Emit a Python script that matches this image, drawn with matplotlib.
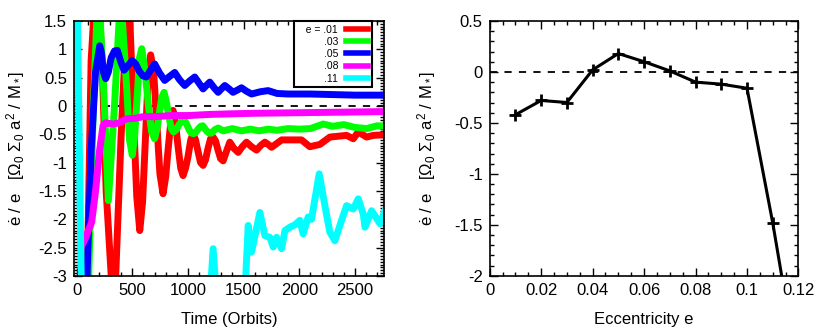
import matplotlib
matplotlib.use('Agg')
import matplotlib.pyplot as plt
import numpy as np
from matplotlib.ticker import MultipleLocator

plt.rcParams['font.family'] = ['Liberation Sans', 'DejaVu Sans']
plt.rcParams['mathtext.fontset'] = 'custom'
plt.rcParams['mathtext.rm'] = 'Liberation Sans'
plt.rcParams['mathtext.it'] = 'Liberation Sans:italic'

# left panel: de/dt / e versus time, one series per eccentricity
t_01 = [90, 130, 185, 235, 265, 335, 400, 465, 490, 515, 540, 567, 592, 615, 640, 665,
        692, 720, 748, 776, 800, 820, 845, 866, 888, 910, 935, 956, 978, 1000, 1025,
        1046, 1068, 1090, 1113, 1136, 1158, 1180, 1203, 1226, 1248, 1270, 1293, 1316,
        1346, 1376, 1413, 1451, 1488, 1526, 1571, 1616, 1653, 1691, 1721, 1751, 1800,
        1841, 2020, 2095, 2185, 2275, 2425, 2485, 2530, 2605, 2665, 2760]
y_01 = [-3.6, 0.8, 2.6, 0.4, -1.5, -3.8, -0.5, 2.2, 0.9, -0.4, -1.6, -2.2, -1.7, -0.7,
        0.4, 0.9, 0.6, -0.3, -1.2, -1.55, -1.25, -0.8, -0.3, -0.08, -0.3, -0.7, -1.1,
        -1.23, -1.1, -0.9, -0.6, -0.49, -0.6, -0.8, -1.0, -1.05, -0.95, -0.75, -0.58,
        -0.55, -0.62, -0.78, -0.93, -0.97, -0.8, -0.64, -0.75, -0.82, -0.72, -0.64,
        -0.72, -0.78, -0.70, -0.64, -0.68, -0.73, -0.66, -0.60, -0.60, -0.72, -0.68,
        -0.55, -0.52, -0.58, -0.46, -0.55, -0.52, -0.51]

t_03 = [100, 150, 195, 245, 285, 340, 395, 450, 475, 500, 522, 545, 565, 585, 615, 645,
        672, 700, 722, 745, 765, 785, 808, 830, 850, 870, 895, 920, 945, 971, 990, 1010,
        1031, 1052, 1073, 1095, 1114, 1133, 1152, 1170, 1190, 1211, 1241, 1271, 1316,
        1400, 1480, 1560, 1640, 1720, 1800, 1900, 2000, 2100, 2215, 2300, 2400, 2500,
        2605, 2700, 2760]
y_03 = [-3.6, 0.0, 2.2, 0.2, -1.67, 0.0, 2.0, 0.3, -0.6, -0.87, -0.5, 0.2, 0.85, 1.01,
        0.6, 0.0, -0.45, -0.58, -0.4, -0.1, 0.15, 0.24, 0.05, -0.2, -0.4, -0.46, -0.42,
        -0.33, -0.27, -0.26, -0.33, -0.42, -0.48, -0.49, -0.46, -0.40, -0.36, -0.35,
        -0.40, -0.45, -0.48, -0.48, -0.42, -0.39, -0.44, -0.40, -0.44, -0.41, -0.44,
        -0.41, -0.43, -0.40, -0.41, -0.40, -0.32, -0.36, -0.33, -0.38, -0.40, -0.35,
        -0.36]

t_05 = [85, 130, 170, 207, 222, 240, 261, 285, 310, 340, 366, 396, 426, 465, 500, 530,
        560, 595, 626, 660, 701, 745, 791, 835, 881, 925, 971, 1015, 1061, 1100, 1136,
        1165, 1196, 1235, 1271, 1300, 1331, 1370, 1405, 1445, 1481, 1525, 1571, 1650,
        1720, 1800, 1900, 2100, 2300, 2500, 2760]
y_05 = [-3.5, -0.8, 0.6, 1.06, 0.95, 0.6, 0.48, 0.6, 0.85, 0.97, 0.98, 0.78, 0.63, 0.72,
        0.80, 0.74, 0.62, 0.53, 0.51, 0.62, 0.74, 0.58, 0.45, 0.52, 0.59, 0.46, 0.36,
        0.44, 0.51, 0.40, 0.30, 0.36, 0.42, 0.32, 0.24, 0.30, 0.36, 0.30, 0.24, 0.28,
        0.32, 0.26, 0.21, 0.25, 0.27, 0.22, 0.21, 0.21, 0.20, 0.19, 0.19]

t_08 = [50, 75, 135, 170, 205, 237, 260, 330, 380, 447, 520, 596, 700, 850, 1000, 1200,
        1376, 1600, 2000, 2400, 2760]
y_08 = [-2.45, -2.35, -2.05, -1.5, -0.8, -0.35, -0.30, -0.32, -0.30, -0.23, -0.22,
        -0.19, -0.19, -0.17, -0.17, -0.15, -0.14, -0.13, -0.12, -0.11, -0.10]

t_11 = [0, 45, 1195, 1226, 1260, 1505, 1541, 1571, 1646, 1691, 1736, 1766, 1796, 1841,
        1871, 1916, 1960, 2005, 2035, 2080, 2110, 2179, 2230, 2275, 2320, 2365, 2425,
        2485, 2530, 2575, 2590, 2650, 2725, 2770]
y_11 = [2.5, -3.6, -3.5, -2.52, -3.5, -3.6, -2.11, -2.58, -1.88, -2.29, -2.32, -2.49,
        -2.32, -2.52, -2.2, -2.14, -2.1, -2.02, -2.26, -1.96, -2.0, -1.2, -1.76, -2.23,
        -2.38, -2.11, -1.76, -1.82, -1.64, -1.91, -2.14, -1.85, -2.08, -1.85]

series = [(t_01, y_01, 'red', '   e = .01'),
          (t_03, y_03, '#00ff00', '.03'),
          (t_05, y_05, 'blue', '.05'),
          (t_08, y_08, 'magenta', '.08'),
          (t_11, y_11, 'cyan', '.11')]

# right panel: de/dt / e versus eccentricity
ecc = [0.01, 0.02, 0.03, 0.04, 0.05, 0.06, 0.07, 0.08, 0.09, 0.10, 0.11, 0.12]
rate = [-0.42, -0.28, -0.30, 0.02, 0.18, 0.10, 0.01, -0.10, -0.12, -0.16, -1.48, -2.97]

ylab = r'ė / e   [$\mathregular{\Omega_0\ \Sigma_0\ a^2\ /\ M_*}$]'

fig = plt.figure(figsize=(8.3, 3.32), dpi=100)
ax1 = fig.add_axes([0.089, 0.169, 0.3735, 0.768])
ax2 = fig.add_axes([0.590, 0.169, 0.372, 0.768])


def style_axes(ax):
    ax.tick_params(which='both', direction='in', top=True, right=True, labelsize=12,
                   width=1.0, pad=5)
    ax.tick_params(which='major', length=6)
    ax.tick_params(which='minor', length=3)
    for s in ax.spines.values():
        s.set_linewidth(1.2)


ax1.axhline(0, color='black', lw=1.3, dashes=(4, 4), zorder=1)
for t, y, c, lab in series:
    ax1.plot(t, y, color=c, lw=5, label=lab, zorder=2)
ax1.set_xlim(-25, 2760)
ax1.set_ylim(-3, 1.5)
ax1.xaxis.set_major_locator(MultipleLocator(500))
ax1.xaxis.set_minor_locator(MultipleLocator(100))
ax1.yaxis.set_major_locator(MultipleLocator(0.5))
ax1.yaxis.set_minor_locator(MultipleLocator(0.05))
ax1.set_yticklabels([f'{v:g}' for v in ax1.get_yticks()])
style_axes(ax1)
ax1.set_xlabel('Time (Orbits)', fontsize=12)
ax1.set_ylabel(ylab, fontsize=12)
ax1.yaxis.set_label_coords(-0.15, 0.5)
ax1.xaxis.set_label_coords(0.5, -0.14)
leg = ax1.legend(loc='upper right', bbox_to_anchor=(0.962, 1.0), borderaxespad=0,
                 markerfirst=False, fontsize=7.5, handlelength=2.2, labelspacing=0.22,
                 fancybox=False, framealpha=1, edgecolor='black', handletextpad=0.7,
                 borderpad=0.35)
leg.get_frame().set_linewidth(1.5)
for h in leg.get_lines():
    h.set_linewidth(4)

ax2.axhline(0, color='black', lw=1.3, dashes=(4, 4), zorder=1)
ax2.plot(ecc, rate, color='black', lw=2.2, marker='+', ms=9, mew=2, zorder=2)
ax2.set_xlim(0, 0.12)
ax2.set_ylim(-2, 0.5)
ax2.xaxis.set_major_locator(MultipleLocator(0.02))
ax2.xaxis.set_minor_locator(MultipleLocator(0.005))
ax2.yaxis.set_major_locator(MultipleLocator(0.5))
ax2.yaxis.set_minor_locator(MultipleLocator(0.1))
ax2.set_xticklabels([f'{v:g}' for v in ax2.get_xticks()])
ax2.set_yticklabels([f'{v:g}' for v in ax2.get_yticks()])
style_axes(ax2)
ax2.set_xlabel('Eccentricity e', fontsize=12)
ax2.set_ylabel(ylab, fontsize=12)
ax2.yaxis.set_label_coords(-0.168, 0.5)
ax2.xaxis.set_label_coords(0.5, -0.14)

fig.savefig('out.png', dpi=100)
